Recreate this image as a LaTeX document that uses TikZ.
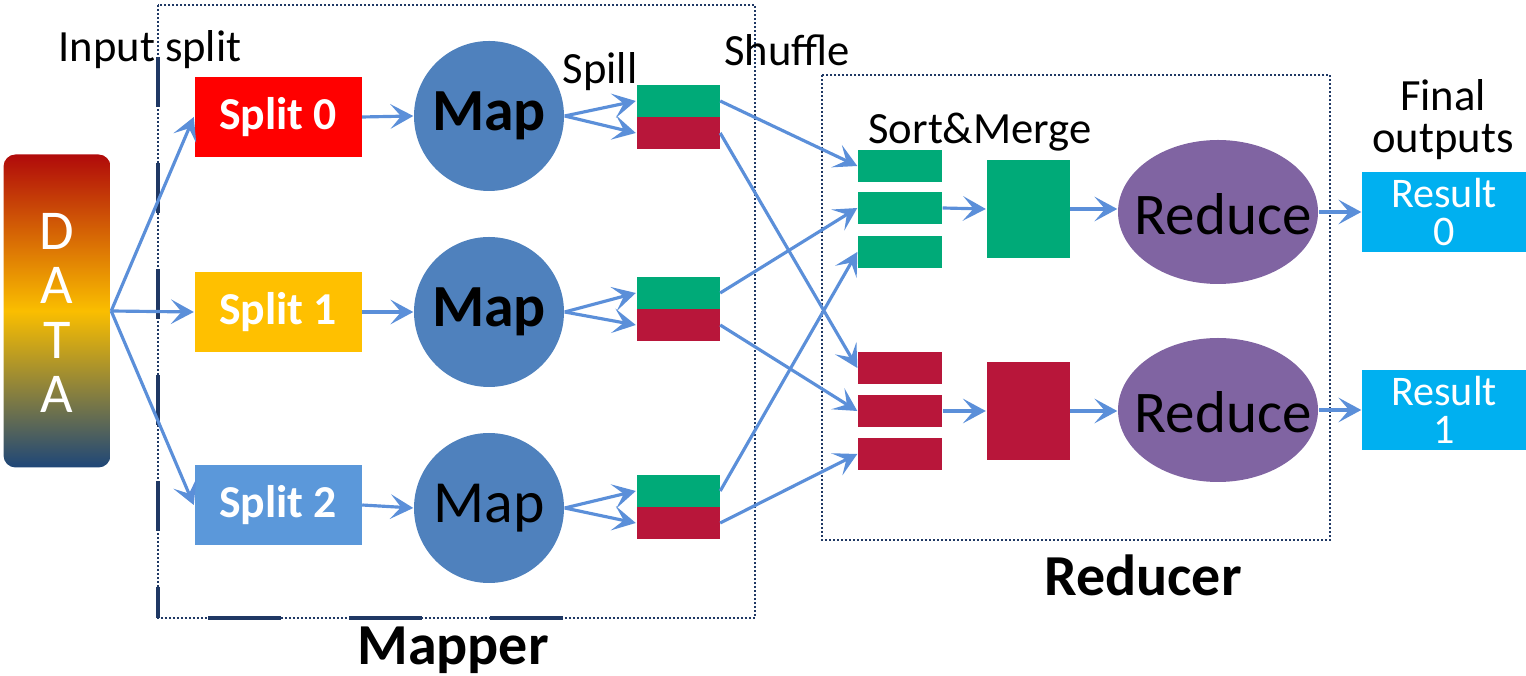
\documentclass[tikz,border=0pt]{standalone}
\usepackage{fontspec}
\setmainfont{Carlito}
\usetikzlibrary{arrows.meta,shapes.geometric}

\definecolor{arrowblue}{RGB}{91,143,217}
\definecolor{mapblue}{RGB}{79,129,189}
\definecolor{splitred}{RGB}{255,0,0}
\definecolor{splityellow}{RGB}{255,192,0}
\definecolor{splitblue}{RGB}{91,152,218}
\definecolor{spillgreen}{RGB}{0,170,120}
\definecolor{spillred}{RGB}{184,22,58}
\definecolor{reducepurple}{RGB}{128,100,162}
\definecolor{resultcyan}{RGB}{0,176,240}
\definecolor{boxnavy}{RGB}{31,56,100}
\definecolor{datatop}{RGB}{176,10,10}
\definecolor{datamid}{RGB}{250,190,0}
\definecolor{databottom}{RGB}{30,70,120}

\tikzset{
  flow/.style={draw=arrowblue, line width=0.9pt, -{Stealth[length=6.5pt,width=7pt,inset=3pt]}},
  splitbox/.style={rectangle, minimum width=16.7mm, minimum height=8mm, inner sep=0pt, text=white, font=\fontsize{13}{15}\selectfont\bfseries},
  mapnode/.style={circle, fill=mapblue, minimum size=15mm, inner sep=0pt, font=\fontsize{17}{20}\selectfont\bfseries},
  spillbox/.style={rectangle, minimum width=8.3mm, minimum height=3.2mm, inner sep=0pt},
  sortbox/.style={rectangle, minimum width=8.4mm, minimum height=3.2mm, inner sep=0pt},
  mergebox/.style={rectangle, minimum width=8.3mm, minimum height=9.8mm, inner sep=0pt},
  reducenode/.style={ellipse, fill=reducepurple, minimum width=20mm, minimum height=14.4mm, inner sep=0pt},
  reducetext/.style={inner sep=0pt, font=\fontsize{16.8}{19}\selectfont},
  resultbox/.style={rectangle, fill=resultcyan, minimum width=16.4mm, minimum height=8mm, inner sep=0pt, text=white, align=center, font=\fontsize{12}{10.8}\selectfont},
  captext/.style={inner sep=0pt, font=\fontsize{12.7}{12}\selectfont, align=center},
  groupname/.style={inner sep=0pt, font=\fontsize{16.5}{19}\selectfont\bfseries},
  dotbox/.style={draw=boxnavy, line width=0.2mm, dash pattern=on 0.2mm off 0.2mm},
  solidedge/.style={draw=boxnavy, line width=0.4mm}
}

\begin{document}
\begin{tikzpicture}[x=0.1mm,y=-0.1mm]
  \useasboundingbox (0,0) rectangle (1526,676);

  % group frames
  \draw [dotbox] (158,5) rectangle (755,618);
  \draw [solidedge, dash pattern=on 5mm off 5.6mm] (158,57) -- (158,618);
  \draw [solidedge, dash pattern=on 7.3mm off 6.8mm] (208,618) -- (570,618);
  \draw [dotbox] (822,75) rectangle (1330,540);

  % input data
  \node [rectangle, rounded corners=1.2mm, minimum width=10.7mm, minimum height=31.3mm, inner sep=0pt,
         top color=datatop, bottom color=databottom, middle color=datamid] (data) at (57,311) {};
  \node [text=white, align=center, font=\fontsize{16}{15.4}\selectfont] (dataname) at (57,313) {D\\A\\T\\A};

  % splits and maps
  \node [splitbox, fill=splitred] (s0) at (278,117) {Split 0};
  \node [splitbox, fill=splityellow] (s1) at (278,312) {Split 1};
  \node [splitbox, fill=splitblue] (s2) at (278,505) {Split 2};
  \node [mapnode] (m0) at (489,116) {Map};
  \node [mapnode] (m1) at (489,312) {Map};
  \node [mapnode, font=\fontsize{17}{20}\selectfont] (m2) at (489,508) {Map};

  % spills
  \node [spillbox, fill=spillgreen] (sp0g) at (678,101) {};
  \node [spillbox, fill=spillred] (sp0r) at (678,133) {};
  \node [spillbox, fill=spillgreen] (sp1g) at (678,293) {};
  \node [spillbox, fill=spillred] (sp1r) at (678,325) {};
  \node [spillbox, fill=spillgreen] (sp2g) at (678,491) {};
  \node [spillbox, fill=spillred] (sp2r) at (678,523) {};

  % sort and merge
  \node [sortbox, fill=spillgreen] (a1) at (900,166) {};
  \node [sortbox, fill=spillgreen] (a2) at (900,208) {};
  \node [sortbox, fill=spillgreen] (a3) at (900,252) {};
  \node [sortbox, fill=spillred] (b1) at (900,368) {};
  \node [sortbox, fill=spillred] (b2) at (900,411) {};
  \node [sortbox, fill=spillred] (b3) at (900,454) {};
  \node [mergebox, fill=spillgreen] (mg0) at (1028,209) {};
  \node [mergebox, fill=spillred] (mg1) at (1028,411) {};

  % reduce and results
  \node [reducenode] (r0) at (1218,212) {};
  \node [reducenode] (r1) at (1218,410) {};
  \node [reducetext] (r0t) at (1223,214) {Reduce};
  \node [reducetext] (r1t) at (1223,412) {Reduce};
  \node [resultbox] (res0) at (1444,212) {Result\\0};
  \node [resultbox] (res1) at (1444,410) {Result\\1};

  % captions
  \node [captext] (tinput) at (150,50) {Input split};
  \node [captext] (tspill) at (600,72) {Spill};
  \node [captext] (tshuffle) at (787,50) {Shuffle};
  \node [captext] (tsort) at (980,132) {Sort\&Merge};
  \node [captext] (tfinal) at (1443,120) {Final\\outputs};
  \node [groupname] (tmapper) at (453,650) {Mapper};
  \node [groupname] (treducer) at (1143,575) {Reducer};

  % connectors
  \foreach \i in {0,1,2} {
    \draw [flow] (data.east) -- (s\i.west);
    \draw [flow] (s\i.east) -- (m\i.west);
    \draw [flow] (m\i.east) -- (sp\i g.west);
    \draw [flow] (m\i.east) -- (sp\i r.west);
  }
  \draw [flow] (sp0g.east) -- (a1.west);
  \draw [flow] (sp0r.east) -- (b1.west);
  \draw [flow] (sp1g.east) -- (a2.west);
  \draw [flow] (sp1r.east) -- (b2.west);
  \draw [flow] (sp2g.east) -- (a3.west);
  \draw [flow] (sp2r.east) -- (b3.west);
  \draw [flow] (a2.east) -- (mg0.west);
  \draw [flow] (b2.east) -- (mg1.west);
  \draw [flow] (mg0.east) -- (r0.west |- mg0.east);
  \draw [flow] (mg1.east) -- (r1.west |- mg1.east);
  \draw [flow] (r0.east |- res0.west) -- (res0.west);
  \draw [flow] (r1.east |- res1.west) -- (res1.west);
\end{tikzpicture}
\end{document}
